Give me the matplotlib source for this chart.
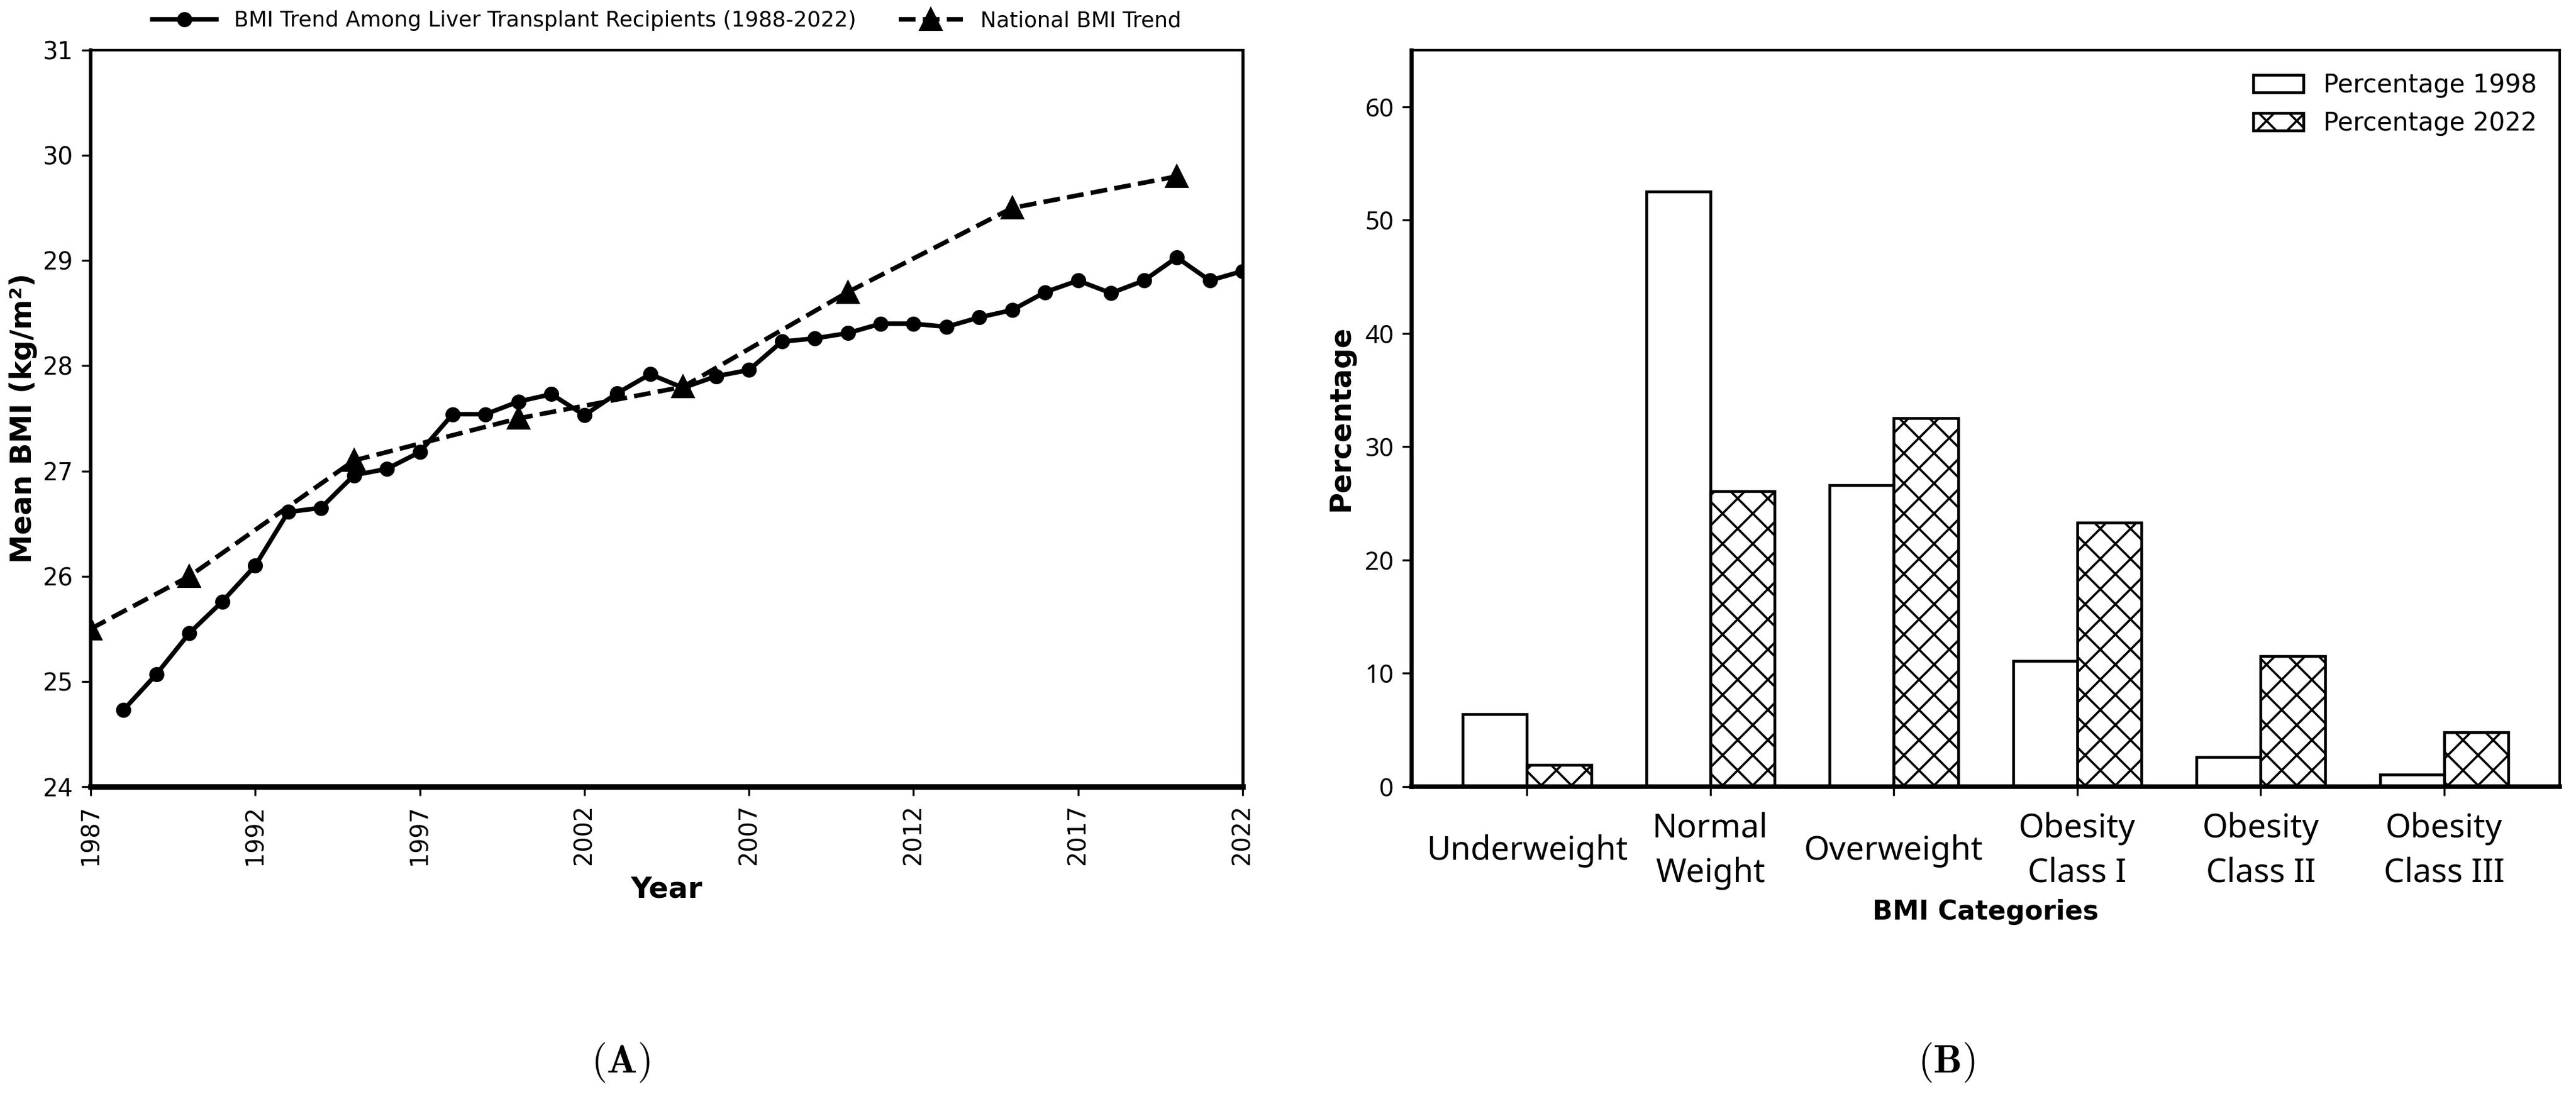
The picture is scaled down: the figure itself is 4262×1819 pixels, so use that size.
import numpy as np
import matplotlib
matplotlib.use("Agg")
import matplotlib.pyplot as plt

# panel A data
years = list(range(1988, 2023))
bmi_liver = [24.73, 25.07, 25.46, 25.76, 26.10, 26.61, 26.65, 26.96, 27.02, 27.18,
             27.54, 27.54, 27.66, 27.73, 27.53, 27.74, 27.92, 27.79, 27.90, 27.96,
             28.23, 28.26, 28.31, 28.40, 28.40, 28.37, 28.46, 28.53, 28.70, 28.81,
             28.69, 28.81, 29.03, 28.81, 28.90]
nat_years = [1987, 1990, 1995, 2000, 2005, 2010, 2015, 2020]
bmi_national = [25.5, 26.0, 27.1, 27.5, 27.8, 28.7, 29.5, 29.8]

# panel B data
categories = ["Underweight", "Normal\nWeight", "Overweight",
              "Obesity\nClass I", "Obesity\nClass II", "Obesity\nClass III"]
pct_1998 = [6.4, 52.5, 26.6, 11.1, 2.6, 1.05]
pct_2022 = [1.9, 26.1, 32.5, 23.3, 11.5, 4.8]

plt.rcParams["font.family"] = ["DejaVu Sans"]
plt.rcParams["mathtext.fontset"] = "cm"
plt.rcParams["hatch.linewidth"] = 0.9

fig = plt.figure(figsize=(4262 / 300, 1819 / 300), dpi=300)

# ---- (A) line chart
ax1 = fig.add_axes([0.0352, 0.2842, 0.4472, 0.6702])
ax1.plot(years, bmi_liver, color="black", lw=1.8, marker="o", ms=5,
         label="BMI Trend Among Liver Transplant Recipients (1988-2022)")
ax1.plot(nat_years, bmi_national, color="black", lw=1.8, ls="--", marker="^", ms=8,
         label="National BMI Trend")
ax1.set_xlim(1987, 2022)
ax1.set_ylim(24, 31)
ax1.set_xticks(range(1987, 2023, 5))
ax1.set_yticks(range(24, 32))
ax1.tick_params(axis="x", labelrotation=90, labelsize=9.5)
ax1.tick_params(axis="y", labelsize=9.5)
ax1.set_xlabel("Year", fontsize=11.5, fontweight="bold")
ax1.set_ylabel("Mean BMI (kg/m²)", fontsize=11.5, fontweight="bold", labelpad=2)
ax1.spines["bottom"].set_linewidth(2.2)
ax1.spines["top"].set_linewidth(1.0)
ax1.spines["left"].set_linewidth(1.4)
ax1.spines["right"].set_linewidth(1.2)
ax1.legend(loc="lower center", bbox_to_anchor=(0.5, 1.0), ncol=2, frameon=False,
           fontsize=8.5, handlelength=3.0)

# ---- (B) grouped bars
ax2 = fig.add_axes([0.5479, 0.2842, 0.4458, 0.6702])
x = np.arange(len(categories))
w = 0.35
ax2.bar(x - w / 2, pct_1998, w, facecolor="white", edgecolor="black", lw=1.1,
        label="Percentage 1998")
ax2.bar(x + w / 2, pct_2022, w, facecolor="white", edgecolor="black", lw=1.1,
        hatch="xx", label="Percentage 2022")
ax2.set_xlim(-0.63, len(categories) - 1 + 0.63)
ax2.set_ylim(0, 65)
ax2.set_yticks(range(0, 61, 10))
ax2.set_xticks(x)
ax2.set_xticklabels(categories, fontsize=13, family=["Noto Sans", "DejaVu Sans"],
                    linespacing=1.45)
for lab in ax2.get_xticklabels():
    lab.set_va("center")
ax2.tick_params(axis="x", pad=22)
for lab in ax2.get_yticklabels():
    lab.set_family(["Noto Sans", "DejaVu Sans"])
    lab.set_fontsize(10)
ax2.set_ylabel("Percentage", fontsize=11.5, fontweight="bold")
ax2.set_xlabel("BMI Categories", fontsize=10.5, fontweight="bold")
ax2.xaxis.set_label_coords(0.5, -0.17)
ax2.xaxis.label.set_va("center")
ax2.spines["bottom"].set_linewidth(1.8)
ax2.spines["left"].set_linewidth(1.6)
ax2.spines["top"].set_linewidth(1.0)
ax2.spines["right"].set_linewidth(1.0)
ax2.legend(loc="upper right", frameon=False, fontsize=10)

# panel letters
fig.text(0.241, 0.033, r"$\mathbf{(A)}$", fontsize=16, ha="center", va="center")
fig.text(0.7555, 0.033, r"$\mathbf{(B)}$", fontsize=16, ha="center", va="center")

fig.savefig("out.png", dpi=300, facecolor="white")
